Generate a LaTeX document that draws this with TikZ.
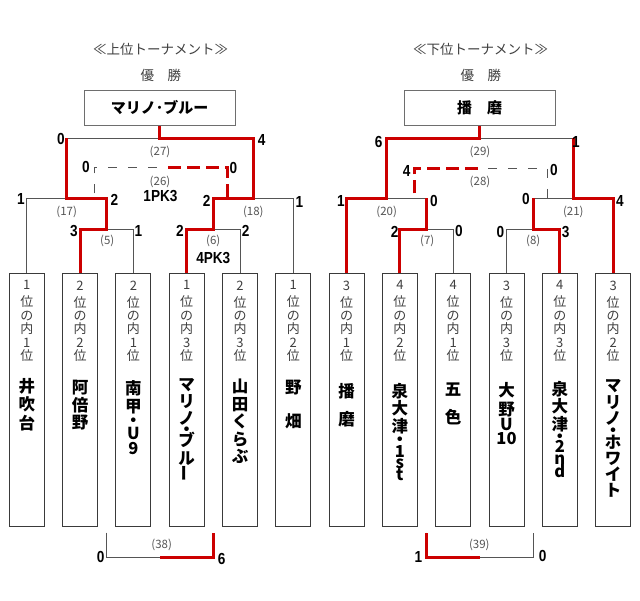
\documentclass[tikz,border=0pt]{standalone}
\usepackage{graphicx}
\usepackage{fontspec}
\setmainfont{Noto Sans CJK JP}
\newfontfamily\scorefont[FakeStretch=0.85]{Liberation Sans}
\definecolor{winred}{HTML}{CC0000}
\definecolor{linegray}{HTML}{555555}
\definecolor{boxgray}{HTML}{3A3A3A}
\definecolor{txtgray}{HTML}{404040}
\tikzset{
  teambox/.style={draw=boxgray, line width=1pt, minimum width=35pt, minimum height=253pt, inner sep=0pt},
  topbox/.style={draw=linegray!85, line width=1pt, minimum width=151pt, minimum height=35pt, font=\fontsize{15}{15}\selectfont\bfseries},
  bline/.style={draw=linegray, line width=1pt},
  wline/.style={draw=winred, line width=3pt},
  bdash/.style={bline, dash pattern=on 9pt off 11pt, dash phase=15pt},
  wdash/.style={wline, dash pattern=on 13pt off 6pt},
  score/.style={inner sep=0pt, font=\scorefont\fontsize{16}{16}\selectfont\bfseries},
  gameno/.style={inner sep=0pt, text=linegray, font=\fontsize{11.5}{11.5}\selectfont},
  rank/.style={anchor=north, inner sep=0pt, align=center, text=txtgray, font=\fontsize{13}{13.4}\selectfont},
  tname/.style={anchor=north, inner sep=0pt, align=center, font=\fontsize{16.5}{17.5}\selectfont\bfseries},
  heading/.style={inner sep=0pt, text=txtgray, font=\fontsize{13.5}{13.5}\selectfont},
}
\begin{document}
\begin{tikzpicture}[x=1pt,y=-1pt]
\fill[white] (0,0) rectangle (640,600);
\useasboundingbox (0,0) rectangle (640,600);

% headings and winners
\node[heading] (hL) at (160.5,49.3) {≪上位トーナメント≫};
\node[heading] (wL) at (160.8,75.7) {優　勝};
\node[heading] (hR) at (480.5,49.3) {≪下位トーナメント≫};
\node[heading] (wR) at (480.8,75.7) {優　勝};
\node[topbox] (cL) at (159.7,107.5) {マリノ･ブルー};
\node[topbox] (cR) at (479.7,107.5) {播　磨};

% team boxes
\foreach \x [count=\i] in {26.8,80.1,133.4,186.7,240,293.3,346.6,399.9,453.2,506.5,559.8,613.1}
  \node[teambox] (b\i) at (\x,400) {};
\foreach \i/\g/\p in {1/1/1,2/2/2,3/2/1,4/1/3,5/2/3,6/1/2,7/3/1,8/4/2,9/4/1,10/3/3,11/4/3,12/3/2}
  \node[rank] (r\i) at ([yshift=-7.5pt]b\i.north) {\g\\[3.5pt]位\\の\\内\\\p\\位};

\node[tname] (n1) at (26.8,378) {井\\[1pt]吹\\[1pt]台};
\node[tname] (n2) at (80.1,380) {阿\\倍\\野};
\node[tname] (n3) at (133.4,380) {南\\[1pt]甲\\[-4pt]・\\[-4pt]U\\[-3pt]9};
\node[tname] (n4) at (186.7,378) {マ\\[-0.5pt]リ\\ノ\\[-6.5pt]・\\[-6.5pt]ブ\\ル\\\rotatebox{90}{ー}};
\node[tname] (n5) at (240,379) {山\\田\\く\\ら\\ぶ};
\node[tname] (n6) at (293.3,380) {野\\[16pt]畑};
\node[tname] (n7) at (346.6,383) {播\\[10.5pt]磨};
\node[tname] (n8) at (399.9,383) {泉\\大\\津\\[-4pt]・\\[-6pt]1\\[-6.6pt]s\\[-5.6pt]t};
\node[tname] (n9) at (453.2,383) {五\\[10pt]色};
\node[tname] (n10) at (506.5,382) {大\\[1.5pt]野\\[-2pt]U\\[-4pt]10};
\node[tname] (n11) at (559.8,381) {泉\\大\\津\\[-5pt]・\\[-8pt]2\\[-5.6pt]n\\[-4.5pt]d};
\node[tname] (n12) at (613.1,379) {マ\\[-0.5pt]リ\\[-1.5pt]ノ\\[-5.5pt]・\\[-5.5pt]ホ\\[-1.5pt]ワ\\[-1.5pt]イ\\[-1.5pt]ト};

% junctions
\coordinate (k5) at (106.8,229.3);
\coordinate (k6) at (213.3,229.3);
\coordinate (k7) at (426.6,229.3);
\coordinate (k8) at (533.2,229.3);
\coordinate (k17) at (66.8,198.3);
\coordinate (k18) at (253.3,198.3);
\coordinate (k20) at (386.6,198.3);
\coordinate (k21) at (573.2,198.3);
\coordinate (k27) at (159.7,138.3);
\coordinate (k29) at (479.7,138.3);

% upper bracket
\draw[bline] (b2.north) |- (k5) -| (b3.north);
\draw[bline] (b4.north) |- (k6) -| (b5.north);
\draw[bline] (b1.north) |- (k17) -| (k5);
\draw[bline] (k6) |- (k18) -| (b6.north);
\draw[bline] (k17) |- (k27) -| (k18);
\draw[bline] (k27) -- (cL.south);
\draw[wline] (b2.north) |- (k5) |- (k17) -- (k17 |- k27);
\draw[wline] (b4.north) |- (k6) |- (k18) |- (k27) -- (cL.south);

% lower bracket
\draw[bline] (b8.north) |- (k7) -| (b9.north);
\draw[bline] (b10.north) |- (k8) -| (b11.north);
\draw[bline] (b7.north) |- (k20) -| (k7);
\draw[bline] (k8) |- (k21) -| (b12.north);
\draw[bline] (k20) |- (k29) -| (k21);
\draw[bline] (k29) -- (cR.south);
\draw[wline] (b7.north) |- (k20) |- (k29) -- (cR.south);
\draw[wline] (b8.north) |- (k7) -- (k7 |- k20);
\draw[wline] (b11.north) |- (k8) -- (k8 |- k21);
\draw[wline] (b12.north) |- (k21) -- (k21 |- k29);

% third place games
\coordinate (t26a) at (94,198.3);
\coordinate (t26b) at (227.7,198.3);
\coordinate (m26) at (168,167.7);
\draw[bdash] (t26a) -- (t26a |- m26) -- (m26);
\draw[wdash] (m26) -| (t26b);
\coordinate (t28a) at (414,198.3);
\coordinate (t28b) at (547.7,198.3);
\coordinate (m28) at (478.3,168.3);
\draw[wdash, dash phase=14pt] (t28a) -- (t28a |- m28) -- (m28);
\draw[bdash, dash phase=10pt] (m28) -| (t28b);

% playoff games
\coordinate (p38a) at (106.8,532.7);
\coordinate (p38b) at (213.3,532.7);
\coordinate (k38) at (160,557.3);
\draw[bline] (p38a) |- (k38) -| (p38b);
\draw[wline] (k38) -| (p38b);
\coordinate (p39a) at (426.6,532.7);
\coordinate (p39b) at (533.2,532.7);
\coordinate (k39) at (479.9,557.3);
\draw[bline] (p39a) |- (k39) -| (p39b);
\draw[wline] (k39) -| (p39a);

% scores
\foreach \n/\x/\y/\t in {27a/61/139/0, 27b/261.7/140/4, 26a/86/167.3/0, 26b/233.3/168/0,
    17a/21/199.3/1, 17b/114.3/200.3/2, 5a/74/231/3, 5b/138.3/231/1,
    18a/206.7/201.3/2, 18b/299.3/202.3/1, 6a/180/230.7/2, 6b/245.7/230.7/2,
    29a/378.7/141.7/6, 29b/576/141.7/1, 28a/406.7/170.7/4, 28b/554/170/0,
    20a/341/201/1, 20b/434/201/0, 7a/394.7/232/2, 7b/459/231/0,
    21a/526/199.3/0, 21b/620/201/4, 8a/500.5/232/0, 8b/565.7/232/3,
    38a/100.7/556.7/0, 38b/221.7/559.3/6, 39a/418.3/557/1, 39b/542.7/556/0}
  \node[score] (s\n) at (\x,\y) {\t};
\node[score] (pk26) at (160.5,195.7) {1PK3};
\node[score] (pk6) at (213.3,257.7) {4PK3};

% game numbers
\foreach \n/\x/\y in {27/160/151.7, 26/160/181.7, 17/66.7/211.7, 18/253.3/211.7, 5/107.3/240.7, 6/213.3/240.7,
    29/480/151.7, 28/480/181.7, 20/386.7/211.7, 21/573.3/211.7, 7/427.3/240.7, 8/533.3/240.7,
    38/161.7/545, 39/479.3/545}
  \node[gameno] (g\n) at (\x,\y) {(\n)};
\end{tikzpicture}
\end{document}
